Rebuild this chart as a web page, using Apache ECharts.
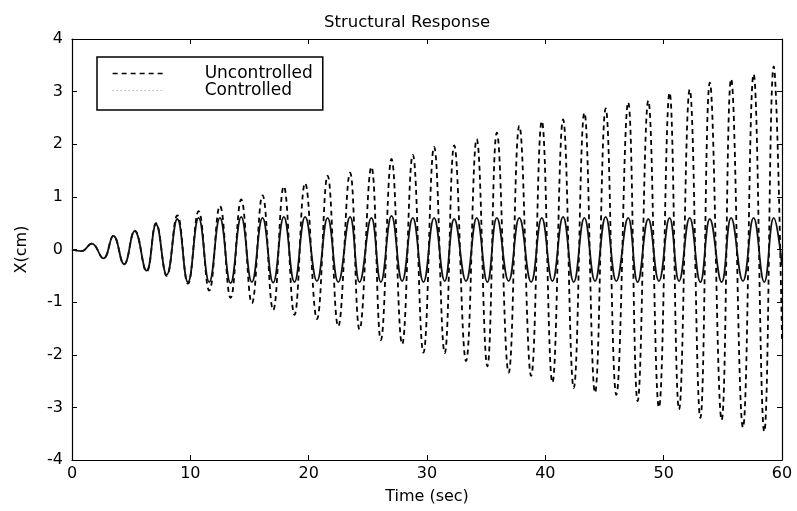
<!DOCTYPE html>
<html>
<head>
<meta charset="utf-8">
<script src="https://cdn.jsdelivr.net/npm/echarts@6/dist/echarts.min.js"></script>
<style>html,body{margin:0;padding:0;background:#fff}#c{width:797px;height:511px}</style>
</head>
<body>
<div id="c"></div>
<script>
// Times (s) of the samples: start, then alternating peaks / troughs, then end
var time = [0, 0.8,
  1.67, 2.65, 3.5, 4.4, 5.3, 6.3, 7.1, 8.0, 8.9, 9.8, 10.7, 11.6, 12.5, 13.4, 14.3, 15.2,
  16.1, 17.0, 17.9, 18.8, 19.7, 20.7, 21.6, 22.5, 23.5, 24.3, 25.3, 26.1, 27.0, 27.9,
  28.8, 29.7, 30.6, 31.5, 32.3, 33.3, 34.2, 35.1, 35.9, 36.9, 37.8, 38.8, 39.7, 40.6,
  41.5, 42.4, 43.3, 44.2, 45.1, 46.0, 47.0, 47.8, 48.7, 49.6, 50.5, 51.3, 52.2, 53.1,
  53.9, 54.9, 55.7, 56.7, 57.6, 58.5, 59.3, 60];
var uncontrolled = [0, -0.03,
  0.11, -0.17, 0.26, -0.28, 0.36, -0.42, 0.5, -0.5, 0.65, -0.65, 0.73, -0.78, 0.83, -0.92,
  0.95, -1.02, 1.03, -1.15, 1.2, -1.24, 1.26, -1.32, 1.4, -1.46, 1.46, -1.52, 1.57, -1.72,
  1.72, -1.8, 1.8, -1.96, 1.95, -1.97, 1.98, -2.12, 2.1, -2.22, 2.22, -2.34, 2.35, -2.4,
  2.44, -2.53, 2.47, -2.63, 2.6, -2.72, 2.68, -2.76, 2.8, -2.88, 2.83, -3.0, 2.98, -3.04,
  3.04, -3.2, 3.17, -3.24, 3.24, -3.38, 3.33, -3.46, 3.48, -1.7];
var controlled = [0, -0.03,
  0.11, -0.17, 0.26, -0.28, 0.35, -0.4, 0.48, -0.48, 0.58, -0.62, 0.6, -0.62, 0.6, -0.64,
  0.62, -0.62, 0.6, -0.63, 0.62, -0.62, 0.62, -0.6, 0.6, -0.62, 0.62, -0.62, 0.6, -0.62,
  0.64, -0.6, 0.6, -0.62, 0.6, -0.6, 0.58, -0.6, 0.6, -0.62, 0.6, -0.6, 0.6, -0.62,
  0.6, -0.6, 0.62, -0.62, 0.6, -0.6, 0.62, -0.6, 0.6, -0.62, 0.58, -0.6, 0.6, -0.6,
  0.6, -0.62, 0.58, -0.62, 0.6, -0.6, 0.6, -0.62, 0.6, -0.3];
var xTicks = [0, 10, 20, 30, 40, 50, 60];
var yTicks = [-4, -3, -2, -1, 0, 1, 2, 3, 4];
var seriesNames = ['Uncontrolled', 'Controlled'];
var titleText = 'Structural Response';
var xName = 'Time (sec)';
var yName = 'X(cm)';

function pairs(xs, ys) { return xs.map(function (x, i) { return [x, ys[i]]; }); }

var FONT = 'DejaVu Sans';
var chart = echarts.init(document.getElementById('c'), null, { renderer: 'canvas' });
function axisCommon() {
  return {
    axisLine: { show: true, onZero: false, lineStyle: { color: '#000', width: 1.2 } },
    splitLine: { show: false },
    axisTick: { show: true, inside: true, length: 5, lineStyle: { color: '#000', width: 1 } }
  };
}
chart.setOption({
  animation: false,
  backgroundColor: '#fff',
  color: ['#000', '#000'],
  title: {
    text: titleText, left: 319, top: 9,
    textStyle: { fontFamily: FONT, fontSize: 16.5, fontWeight: 'normal', color: '#000' }
  },
  grid: { left: 72, right: 15, top: 39, bottom: 51, show: false },
  legend: {
    orient: 'vertical', left: 97, top: 57,
    padding: [8, 10, 11, 15], itemGap: 0,
    itemWidth: 50, itemHeight: 14,
    borderColor: '#000', borderWidth: 1.5, backgroundColor: '#fff',
    textStyle: { fontFamily: FONT, fontSize: 17, lineHeight: 17, color: '#000', padding: [0, 0, 0, 37] },
    data: [
      { name: seriesNames[0], itemStyle: { opacity: 0 }, lineStyle: { color: '#000', width: 1.3, type: [5, 4] } },
      { name: seriesNames[1], itemStyle: { opacity: 0 }, lineStyle: { color: '#999', width: 1, type: [1, 3] } }
    ]
  },
  xAxis: [
    Object.assign({
      type: 'value', min: 0, max: 60, interval: 10, position: 'bottom',
      name: xName, nameLocation: 'middle', nameGap: 29,
      nameTextStyle: { fontFamily: FONT, fontSize: 16, color: '#000' },
      axisLabel: { fontFamily: FONT, fontSize: 16, color: '#000', margin: 6,
        formatter: function (v) { return xTicks.indexOf(v) >= 0 ? String(v) : ''; } }
    }, axisCommon()),
    Object.assign({
      type: 'value', min: 0, max: 60, interval: 10, position: 'top',
      axisLabel: { show: false }
    }, axisCommon())
  ],
  yAxis: [
    Object.assign({
      type: 'value', min: -4, max: 4, interval: 1, position: 'left',
      name: yName, nameLocation: 'middle', nameGap: 42,
      nameTextStyle: { fontFamily: FONT, fontSize: 16, color: '#000' },
      axisLabel: { fontFamily: FONT, fontSize: 16, color: '#000', margin: 9,
        formatter: function (v) { return yTicks.indexOf(v) >= 0 ? String(v) : ''; } }
    }, axisCommon()),
    Object.assign({
      type: 'value', min: -4, max: 4, interval: 1, position: 'right',
      axisLabel: { show: false }
    }, axisCommon())
  ],
  series: [
    {
      name: seriesNames[0], type: 'line', data: pairs(time, uncontrolled),
      symbol: 'none', showSymbol: false, smooth: 0.45, xAxisIndex: 0, yAxisIndex: 0,
      itemStyle: { color: '#000' },
      lineStyle: { color: '#000', width: 1.8, type: [5, 4] }, z: 2
    },
    {
      name: seriesNames[1], type: 'line', data: pairs(time, controlled),
      symbol: 'none', showSymbol: false, smooth: 0.45, xAxisIndex: 0, yAxisIndex: 0,
      itemStyle: { color: '#000' },
      lineStyle: { color: '#111', width: 1.8, type: 'solid' }, z: 3
    }
  ]
});
</script>
</body>
</html>
